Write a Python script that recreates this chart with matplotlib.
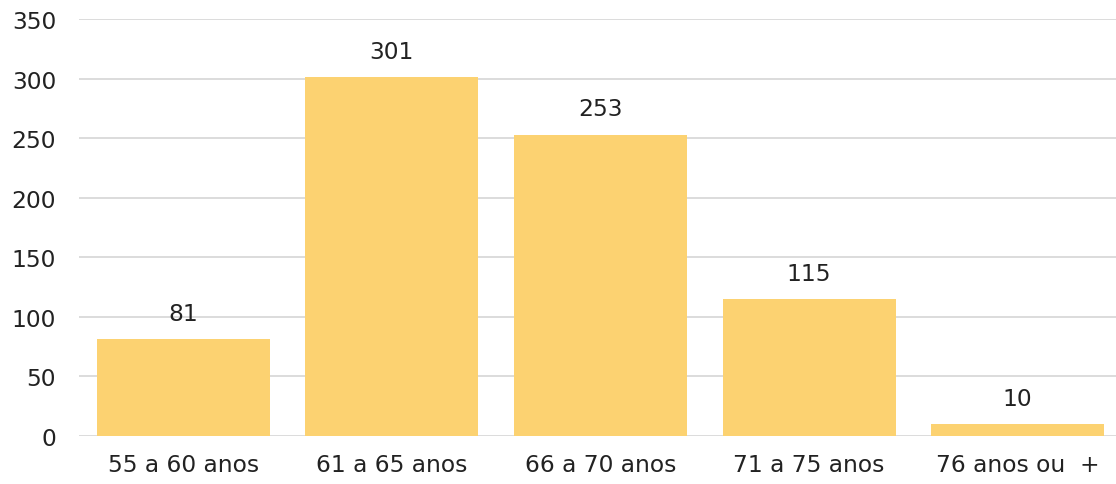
import matplotlib
matplotlib.use("Agg")
import matplotlib.pyplot as plt

categories = ["55 a 60 anos", "61 a 65 anos", "66 a 70 anos", "71 a 75 anos", "76 anos ou  +"]
values = [81, 301, 253, 115, 10]
yticks = [0, 50, 100, 150, 200, 250, 300, 350]

plt.rcParams['font.family'] = ['DejaVu Sans']
fig = plt.figure(figsize=(11.16, 4.85), dpi=100)
ax = fig.add_axes([79/1116, 48/485, 1043/1116, 417/485])
x = list(range(len(categories)))
bars = ax.bar(x, values, width=0.83, color="#FCD271", zorder=3)
for xi, v in zip(x, values):
    ax.text(xi, v + 12, str(v), ha="center", va="bottom", fontsize=16.8, color="#222222")
ax.set_xlim(-0.5, 4.5)
ax.set_ylim(0, 350)
ax.set_yticks(yticks)
ax.set_yticklabels([str(t) for t in yticks], fontsize=16.8, color="#222222")
ax.set_xticks(x)
ax.set_xticklabels(categories, fontsize=16.8, color="#222222")
ax.tick_params(axis="both", length=0)
ax.tick_params(axis="y", pad=16.5)
ax.tick_params(axis="x", pad=12.5)
ax.grid(axis="y", color="#D9D9D9", linewidth=1.3, zorder=0)
for s in ax.spines.values():
    s.set_visible(False)
fig.savefig("out.png", dpi=100)
